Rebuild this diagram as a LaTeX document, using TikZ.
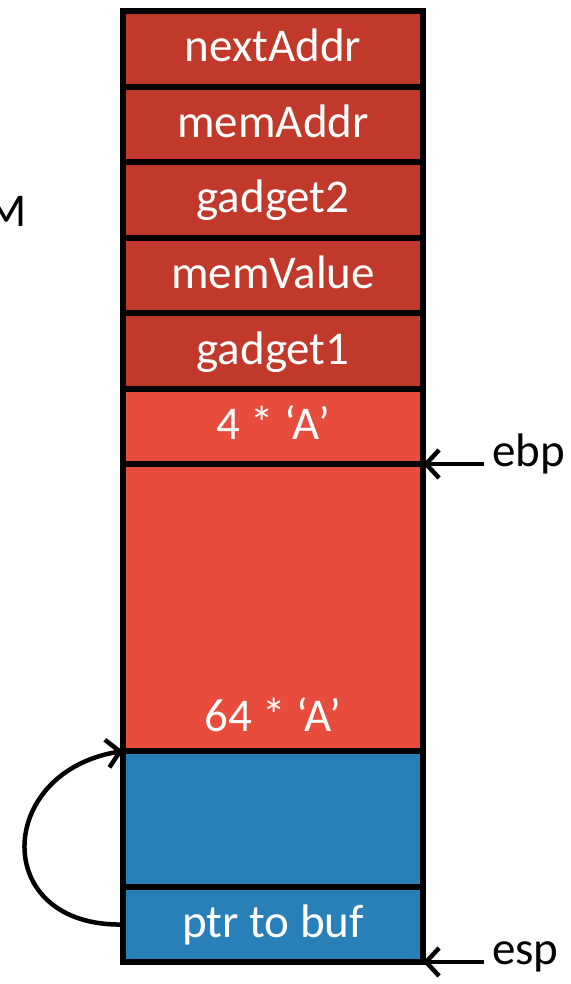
\documentclass[tikz,border=0pt]{standalone}
\usepackage{fontspec}
\setmainfont{Carlito}
\usetikzlibrary{arrows.meta}
\definecolor{slotdark}{HTML}{C0392B}
\definecolor{slotlight}{HTML}{E74C3C}
\definecolor{slotblue}{HTML}{2980B9}

\begin{document}
\begin{tikzpicture}[x = 1pt, y = -1pt,
        slot/.style = {draw = black, line width = 5.5pt, minimum width = 300pt, inner sep = 0pt, outer sep = 0pt,
            text = white, text height = 35pt, text depth = 9pt, font = \fontsize{47}{56}\selectfont},
        ptrarrow/.style = {line width = 4.5pt, -{Straight Barb[length = 13pt, width = 28pt, line width = 4.5pt]}},
        reglabel/.style = {inner sep = 0pt, outer sep = 0pt, font = \fontsize{47}{56}\selectfont}]
        \useasboundingbox (0, 0) rectangle (570, 984);
        % stack, top to bottom
        \node[slot, fill = slotdark, minimum height = 76pt] (next) at (273, 49) {nextAddr};
        \node[slot, fill = slotdark, minimum height = 75pt] (memaddr) at (273, 124.5) {memAddr};
        \node[slot, fill = slotdark, minimum height = 76pt] (gadget2) at (273, 200) {gadget2};
        \node[slot, fill = slotdark, minimum height = 75pt] (memval) at (273, 275.5) {memValue};
        \node[slot, fill = slotdark, minimum height = 76pt] (gadget1) at (273, 351) {gadget1};
        \node[slot, fill = slotlight, minimum height = 75pt] (pad) at (273, 426.5) {4 * ‘A’};
        \node[slot, fill = slotlight, minimum height = 287pt] (buf) at (273, 607.5) {};
        \node[slot, fill = slotblue, minimum height = 136pt] (blue) at (273, 819) {};
        \node[slot, fill = slotblue, minimum height = 75pt] (ptr) at (273, 924.5) {ptr to buf};
        \node[reglabel, text = white] (bufnote) at (273, 715) {64 * ‘A’};
        % registers
        \node[reglabel, anchor = mid west] (ebp) at (492, 464) {ebp};
        \node[reglabel, anchor = mid west] (esp) at (492, 962) {esp};
        \draw[ptrarrow, shorten <= 8pt] (ebp.mid west) -- (ebp.mid west -| pad.east);
        \draw[ptrarrow, shorten <= 8pt] (esp.mid west) -- (esp.mid west -| ptr.east);
        % cut off text on the left
        \node[reglabel, anchor = base east] (cut) at (27, 226) {M};
        % pointer back into the buffer
        \draw[ptrarrow] (ptr.west) .. controls (-10, 927) and (-5, 772) .. (blue.north west);
    \end{tikzpicture}
\end{document}
